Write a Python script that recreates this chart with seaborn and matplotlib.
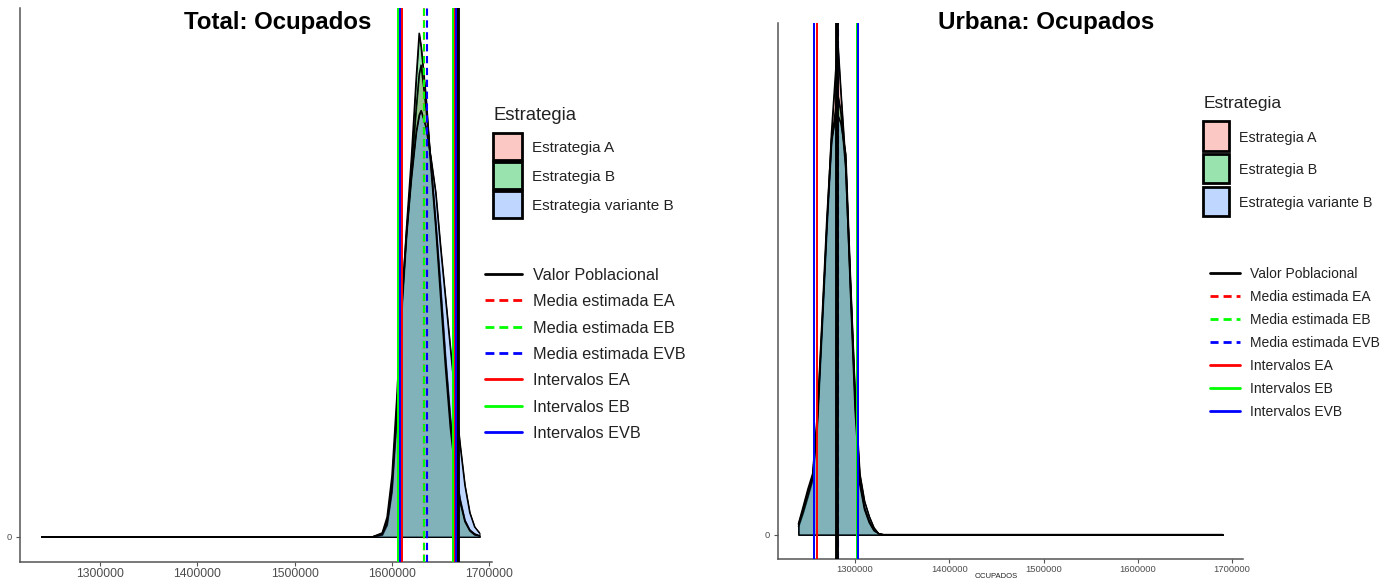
import numpy as np
import pandas as pd
import matplotlib
matplotlib.use("Agg")
import matplotlib.pyplot as plt
import seaborn as sns
from matplotlib.colors import to_rgba
from matplotlib.lines import Line2D
from matplotlib.patches import Rectangle

sns.set_style("white")
plt.rcParams["font.family"] = ["Liberation Sans", "DejaVu Sans"]

W, H = 1385, 581

estrategias = ["Estrategia A", "Estrategia B", "Estrategia variante B"]
relleno = ["#F8766D", "#00BA38", "#619CFF"]

# Total: Ocupados - densidades estimadas (en unidades de 1e-5)
x_total = np.array([1240, 1580, 1590, 1595, 1600, 1605, 1610, 1615, 1620, 1625, 1628, 1630,
                    1635, 1640, 1645, 1650, 1655, 1660, 1665, 1670, 1675, 1680, 1685, 1690]) * 1000
dens_total_A = np.array([0, 0, 0.02, 0.10, 0.33, 0.82, 1.48, 1.98, 2.41, 2.83, 3.05, 3.11,
                         2.83, 2.47, 2.08, 1.65, 1.19, 0.79, 0.46, 0.25, 0.11, 0.046, 0.02, 0.007]) * 1e-5
dens_total_B = np.array([0, 0, 0.013, 0.079, 0.30, 0.79, 1.52, 2.04, 2.50, 3.03, 3.32, 3.23,
                         2.90, 2.44, 2.04, 1.58, 1.12, 0.72, 0.43, 0.23, 0.10, 0.04, 0.013, 0.007]) * 1e-5
dens_total_VB = np.array([0, 0, 0.026, 0.13, 0.40, 0.92, 1.55, 2.01, 2.37, 2.67, 2.78, 2.81,
                          2.70, 2.50, 2.27, 1.91, 1.58, 1.25, 0.92, 0.61, 0.34, 0.16, 0.066, 0.026]) * 1e-5

# Urbana: Ocupados - densidades estimadas (en unidades de 1e-5)
x_urbana = np.array([1240, 1245, 1250, 1255, 1260, 1265, 1270, 1275, 1280, 1282, 1285,
                     1290, 1295, 1300, 1305, 1310, 1315, 1320, 1325, 1330, 1690]) * 1000
dens_urbana_A = np.array([0.053, 0.145, 0.25, 0.36, 0.72, 1.35, 2.01, 2.64, 3.10, 3.20, 2.90,
                          2.44, 1.61, 0.82, 0.33, 0.165, 0.079, 0.026, 0.007, 0, 0]) * 1e-5
dens_urbana_B = np.array([0.066, 0.165, 0.28, 0.38, 0.76, 1.38, 2.01, 2.57, 2.83, 2.88, 2.77,
                          2.41, 1.65, 0.89, 0.36, 0.18, 0.092, 0.033, 0.007, 0, 0]) * 1e-5
dens_urbana_VB = np.array([0.072, 0.185, 0.30, 0.40, 0.79, 1.42, 2.07, 2.60, 2.76, 2.75, 2.70,
                           2.50, 1.68, 0.92, 0.40, 0.22, 0.12, 0.046, 0.007, 0, 0]) * 1e-5

# Valor poblacional, medias estimadas e intervalos (EA, EB, EVB)
total_valor = 1668000
total_medias = [1633000, 1633000, 1635800]
total_inf = [1610100, 1605900, 1608300]
total_sup = [1664900, 1662800, 1665900]

urbana_valor = 1281200
urbana_medias = [1281000, 1281300, 1281500]
urbana_inf = [1259400, 1256800, 1256800]
urbana_sup = [1301800, 1301800, 1303700]

ticks_x = [1300000, 1400000, 1500000, 1600000, 1700000]
colores_linea = ["#FF0000", "#00FF00", "#0000FF"]
etiquetas_linea = ["Valor Poblacional", "Media estimada EA", "Media estimada EB",
                   "Media estimada EVB", "Intervalos EA", "Intervalos EB", "Intervalos EVB"]

fig = plt.figure(figsize=(W / 100, H / 100), dpi=100)


def caja(x0, y_top, x1, y_bottom):
    return [x0 / W, 1 - y_bottom / H, (x1 - x0) / W, (y_bottom - y_top) / H]


def panel(ax, x, densidades, valor, medias, inf, sup, xlim, size_x, size_y, pad_x):
    df = pd.concat([pd.DataFrame({"x": x, "densidad": d, "Estrategia": n})
                    for n, d in zip(estrategias, densidades)])
    for nombre, color in zip(estrategias, relleno):
        sub = df[df["Estrategia"] == nombre]
        ax.fill_between(sub["x"], sub["densidad"], facecolor=to_rgba(color, 0.4),
                        edgecolor="black", linewidth=0.8, zorder=2)
        sns.lineplot(data=sub, x="x", y="densidad", color="black", linewidth=1.0,
                     ax=ax, sort=False, estimator=None, zorder=3)
    for m, c in zip(medias, colores_linea):
        ax.axvline(m, color=c, lw=1.5, linestyle=(0, (3.5, 2.2)), zorder=4)
    ax.axvline(valor, color="black", lw=2.8, zorder=5)
    for a, b, c in zip(inf, sup, colores_linea):
        ax.axvline(a, color=c, lw=1.4, zorder=6)
        ax.axvline(b, color=c, lw=1.4, zorder=6)
    ymax = max(d.max() for d in densidades)
    ax.set_ylim(-0.05 * ymax, 1.05 * ymax)
    ax.set_xlim(*xlim)
    ax.set_xticks(ticks_x)
    ax.set_xticklabels([str(t) for t in ticks_x])
    ax.set_yticks([0])
    ax.set_yticklabels(["0"])
    ax.set_xlabel("")
    ax.set_ylabel("")
    for s in ["top", "right"]:
        ax.spines[s].set_visible(False)
    for s in ["left", "bottom"]:
        ax.spines[s].set_color("#555555")
        ax.spines[s].set_linewidth(1.1)
    ax.tick_params(axis="both", bottom=True, left=True, length=3, width=0.8,
                   color="#555555", labelcolor="#4D4D4D", direction="out")
    ax.tick_params(axis="x", labelsize=size_x, pad=pad_x)
    ax.tick_params(axis="y", labelsize=size_y, pad=3)


ax_total = fig.add_axes(caja(20, 8, 492, 562))
panel(ax_total, x_total, [dens_total_A, dens_total_B, dens_total_VB],
      total_valor, total_medias, total_inf, total_sup, (1217800, 1702900), 8.8, 6.7, 1.5)

ax_urbana = fig.add_axes(caja(778, 23, 1243, 559))
panel(ax_urbana, x_urbana, [dens_urbana_A, dens_urbana_B, dens_urbana_VB],
      urbana_valor, urbana_medias, urbana_inf, urbana_sup, (1218350, 1711450), 6.8, 6.7, 1.5)

# Etiqueta del eje x del panel urbano, pegada al borde inferior entre dos marcas
fig.text(996 / W, 1 - 580.5 / H, "OCUPADOS", fontsize=5.5, ha="center", va="bottom",
         color="#222222")

fig.text(277.5 / W, 1 - 22 / H, "Total: Ocupados", fontsize=17.3, fontweight="bold",
         ha="center", va="center", color="black")
fig.text(1046.5 / W, 1 - 22 / H, "Urbana: Ocupados", fontsize=17.4, fontweight="bold",
         ha="center", va="center", color="black")


def leyenda_estrategias(x_caja, ancho, alto, y_titulo, y_filas, x_texto, t_titulo, t_texto):
    fig.text(x_caja / W, 1 - y_titulo / H, "Estrategia", fontsize=t_titulo,
             ha="left", va="center", color="#222222")
    for y, color, nombre in zip(y_filas, relleno, estrategias):
        fig.add_artist(Rectangle((x_caja / W, 1 - (y + alto / 2) / H), ancho / W, alto / H,
                                 transform=fig.transFigure, facecolor=to_rgba(color, 0.4),
                                 edgecolor="black", linewidth=2.0))
        fig.text(x_texto / W, 1 - (y + 1.5) / H, nombre, fontsize=t_texto,
                 ha="left", va="center", color="#222222")


def leyenda_lineas(x0, x1, y_filas, x_texto, t_texto, guion):
    estilos = [("black", "-")] + [(c, (0, guion)) for c in colores_linea] + \
              [(c, "-") for c in colores_linea]
    for y, (color, ls), nombre in zip(y_filas, estilos, etiquetas_linea):
        fig.add_artist(Line2D([x0 / W, x1 / W], [1 - y / H, 1 - y / H],
                              transform=fig.transFigure, color=color, lw=2.0, linestyle=ls))
        fig.text(x_texto / W, 1 - (y + 1.5) / H, nombre, fontsize=t_texto,
                 ha="left", va="center", color="#222222")


leyenda_estrategias(493.3, 28.5, 27.5, 116, [146.3, 175.3, 204.7], 531.7, 13.3, 11)
leyenda_lineas(485, 522, [274 + 26.3 * i for i in range(7)], 533.3, 11.7, (3.2, 1.8))

leyenda_estrategias(1203.3, 26, 29.5, 103.3, [136.2, 168.3, 201.7], 1239.3, 12.5, 10.3)
leyenda_lineas(1210, 1240, [272.7 + 23.05 * i for i in range(7)], 1250, 10, (2.9, 1.8))

fig.savefig("out.png", dpi=100)
